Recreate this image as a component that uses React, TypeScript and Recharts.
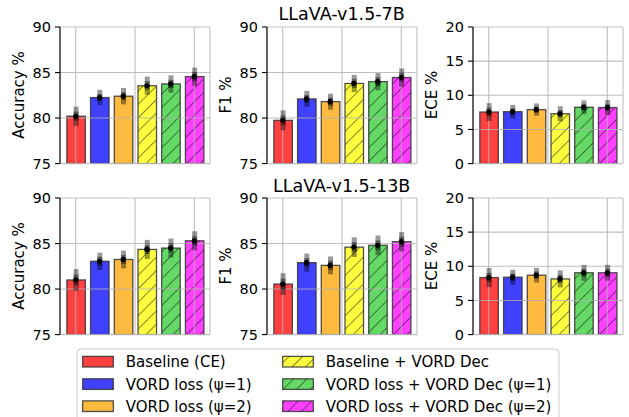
import React from 'react';
import { ComposedChart, Bar, XAxis, YAxis, CartesianGrid, ErrorBar, Scatter } from 'recharts';

// ---------- data ----------
const METHODS = [
  'Baseline (CE)',
  'VORD loss (ψ=1)',
  'VORD loss (ψ=2)',
  'Baseline + VORD Dec',
  'VORD loss + VORD Dec (ψ=1)',
  'VORD loss + VORD Dec (ψ=2)',
];
const POSITIONS = [0, 1, 2, 3, 4, 5];

const ACC_7B = [80.2, 82.25, 82.4, 83.55, 83.75, 84.55];
const ACC_7B_ERR = [1.05, 0.85, 0.9, 1.0, 0.95, 1.0];
const ACC_7B_ERR_IN = [0.5, 0.4, 0.45, 0.5, 0.45, 0.5];

const F1_7B = [79.75, 82.1, 81.8, 83.8, 84.0, 84.45];
const F1_7B_ERR = [1.1, 0.88, 0.88, 0.95, 0.95, 1.0];
const F1_7B_ERR_IN = [0.55, 0.45, 0.45, 0.5, 0.5, 0.5];

const ECE_7B = [7.55, 7.6, 7.9, 7.3, 8.25, 8.2];
const ECE_7B_ERR = [1.3, 1.0, 0.9, 1.1, 1.0, 1.1];
const ECE_7B_ERR_IN = [0.65, 0.5, 0.45, 0.55, 0.5, 0.55];

const ACC_13B = [81.0, 83.05, 83.25, 84.35, 84.5, 85.3];
const ACC_13B_ERR = [1.2, 0.95, 0.98, 1.05, 1.05, 1.05];
const ACC_13B_ERR_IN = [0.6, 0.5, 0.5, 0.5, 0.5, 0.5];

const F1_13B = [80.55, 82.9, 82.6, 84.6, 84.8, 85.2];
const F1_13B_ERR = [1.2, 1.0, 0.98, 1.08, 1.08, 1.08];
const F1_13B_ERR_IN = [0.6, 0.5, 0.5, 0.55, 0.55, 0.55];

const ECE_13B = [8.35, 8.4, 8.7, 8.15, 9.05, 9.05];
const ECE_13B_ERR = [1.4, 1.1, 1.07, 1.25, 1.17, 1.17];
const ECE_13B_ERR_IN = [0.7, 0.55, 0.55, 0.6, 0.6, 0.6];

const TITLES = ['LLaVA-v1.5-7B', 'LLaVA-v1.5-13B'];
const Y_LABELS = ['Accuracy %', 'F1 %', 'ECE %'];
const PCT_TICKS = [75, 80, 85, 90];
const ECE_TICKS = [0, 5, 10, 15, 20];
const X_TICKS = [0, 2.5, 5];

// ---------- styles ----------
const COLORS = ['#ff4040', '#4040ff', '#ffbb40', '#ffff40', '#65d965', '#ff40ff'];
const HATCHED = [false, false, false, true, true, true];
const FONT = 'DejaVu Sans, sans-serif';

const COL_X = [60, 266.7, 472.7];
const ROW_Y = [26.7, 197.7];
const PLOT_W = 150;
const PLOT_H = 136.6;
const M_TOP = 27;
const Y_W = 60;
const X_H = 15;
const M_RIGHT = 10;

const BarShape = (props: any) => {
  const { x, y, width, height, index } = props;
  if (width == null || height == null) return null;
  return (
    <g>
      <rect x={x} y={y} width={width} height={height} fill={COLORS[index]} />
      {HATCHED[index] && <rect x={x} y={y} width={width} height={height} fill="url(#hatch)" />}
      <rect x={x} y={y} width={width} height={height} fill="none" stroke="#333" strokeOpacity={0.85} strokeWidth={1.3} />
    </g>
  );
};

const Dot = (props: any) => {
  const { cx, cy } = props;
  if (cx == null || cy == null) return null;
  return <circle cx={cx} cy={cy} r={2.6} fill="#000" />;
};

type PanelProps = {
  col: number;
  row: number;
  values: number[];
  errs: number[];
  inner: number[];
  domain: [number, number];
  ticks: number[];
};

function Panel({ col, row, values, errs, inner, domain, ticks }: PanelProps) {
  const data = METHODS.map((m, i) => ({ name: m, pos: POSITIONS[i], value: values[i], err: errs[i], inner: inner[i] }));
  const x0 = COL_X[col];
  const y0 = ROW_Y[row];
  const w = Y_W + PLOT_W + M_RIGHT;
  const h = M_TOP + PLOT_H + X_H;
  const tickStyle = { fontSize: 14.5, fill: '#000', fontFamily: FONT };
  return (
    <div style={{ position: 'absolute', left: x0 - Y_W, top: y0 - M_TOP }}>
      <ComposedChart width={w} height={h} data={data} margin={{ top: M_TOP, right: M_RIGHT, bottom: 0, left: 0 }}>
        <XAxis xAxisId="cat" dataKey="name" type="category" hide padding={{ left: 3.85, right: 3.85 }} />
        <XAxis
          xAxisId="num"
          dataKey="pos"
          type="number"
          domain={[-0.662, 5.662]}
          ticks={X_TICKS}
          allowDataOverflow
          tickFormatter={() => ''}
          tickSize={5}
          height={X_H}
          axisLine={{ stroke: '#000', strokeWidth: 1.1 }}
          tickLine={{ stroke: '#000', strokeWidth: 1.1 }}
        />
        <XAxis
          xAxisId="top"
          orientation="top"
          type="number"
          domain={[0, 1]}
          height={0}
          tick={false}
          tickLine={false}
          axisLine={{ stroke: '#000', strokeWidth: 1.1 }}
        />
        <YAxis
          yAxisId="l"
          type="number"
          domain={domain}
          ticks={ticks}
          allowDataOverflow
          width={Y_W}
          tickSize={5}
          tickMargin={4}
          tick={tickStyle}
          axisLine={{ stroke: '#000', strokeWidth: 1.1 }}
          tickLine={{ stroke: '#000', strokeWidth: 1.1 }}
        />
        <YAxis
          yAxisId="r"
          orientation="right"
          type="number"
          domain={domain}
          width={0}
          tick={false}
          tickLine={false}
          axisLine={{ stroke: '#000', strokeWidth: 1.1 }}
        />
        <Bar
          xAxisId="cat"
          yAxisId="l"
          dataKey="value"
          barSize={18.5}
          shape={BarShape}
          isAnimationActive={false}
        >
          <ErrorBar dataKey="err" width={0} strokeWidth={5} stroke="rgba(0,0,0,0.4)" direction="y" />
          <ErrorBar dataKey="inner" width={0} strokeWidth={5} stroke="rgba(0,0,0,0.4)" direction="y" />
        </Bar>
        <CartesianGrid
          xAxisId="num"
          yAxisId="l"
          stroke="#b0b0b0"
          strokeOpacity={0.8}
          strokeWidth={1.1}
          {...({ zIndex: 350 } as any)}
        />
        <Scatter xAxisId="cat" yAxisId="l" dataKey="value" shape={Dot} isAnimationActive={false} />
      </ComposedChart>
    </div>
  );
}

const PANELS: PanelProps[] = [
  { col: 0, row: 0, values: ACC_7B, errs: ACC_7B_ERR, inner: ACC_7B_ERR_IN, domain: [75, 90], ticks: PCT_TICKS },
  { col: 1, row: 0, values: F1_7B, errs: F1_7B_ERR, inner: F1_7B_ERR_IN, domain: [75, 90], ticks: PCT_TICKS },
  { col: 2, row: 0, values: ECE_7B, errs: ECE_7B_ERR, inner: ECE_7B_ERR_IN, domain: [0, 20], ticks: ECE_TICKS },
  { col: 0, row: 1, values: ACC_13B, errs: ACC_13B_ERR, inner: ACC_13B_ERR_IN, domain: [75, 90], ticks: PCT_TICKS },
  { col: 1, row: 1, values: F1_13B, errs: F1_13B_ERR, inner: F1_13B_ERR_IN, domain: [75, 90], ticks: PCT_TICKS },
  { col: 2, row: 1, values: ECE_13B, errs: ECE_13B_ERR, inner: ECE_13B_ERR_IN, domain: [0, 20], ticks: ECE_TICKS },
];

const TITLE_BASELINES = [20, 191.7];
const LEGEND = { x: 77, y: 349, w: 482, h: 80, rowY: [361.7, 384.1, 406.2], swX: [82.7, 282.7], txtX: [125.7, 325.7] };

export default function App() {
  return (
    <div style={{ position: 'absolute', left: 0, top: 0, width: 629, height: 417, overflow: 'hidden', background: '#fff', fontFamily: FONT }}>
      {PANELS.map((p, i) => (
        <Panel key={i} {...p} />
      ))}
      <svg width={629} height={417} style={{ position: 'absolute', left: 0, top: 0, pointerEvents: 'none' }}>
        <defs>
          <pattern id="hatch" width={9.5} height={9.5} patternUnits="userSpaceOnUse" patternTransform="rotate(45)">
            <line x1={0} y1={0} x2={0} y2={9.5} stroke="#000" strokeOpacity={0.85} strokeWidth={1.1} />
          </pattern>
        </defs>
        {TITLES.map((t, r) => (
          <text key={t} x={COL_X[1] + PLOT_W / 2} y={TITLE_BASELINES[r]} textAnchor="middle" fontSize={17.5} fontFamily={FONT} fill="#000">
            {t}
          </text>
        ))}
        {ROW_Y.map((y0, r) =>
          Y_LABELS.map((lab, c) => {
            const lx = COL_X[c] - 36;
            const ly = y0 + PLOT_H / 2;
            return (
              <text key={`${r}-${c}`} x={lx} y={ly} transform={`rotate(-90, ${lx}, ${ly})`} textAnchor="middle" fontSize={15} fontFamily={FONT} fill="#000">
                {lab}
              </text>
            );
          })
        )}
        <rect x={LEGEND.x} y={LEGEND.y} width={LEGEND.w} height={LEGEND.h} rx={4} fill="#fff" fillOpacity={0.9} stroke="#cccccc" strokeWidth={1} />
        {METHODS.map((m, i) => {
          const c = Math.floor(i / 3);
          const r = i % 3;
          const cy = LEGEND.rowY[r];
          const sx = LEGEND.swX[c];
          return (
            <g key={m}>
              <rect x={sx} y={cy - 5.3} width={30.6} height={10.6} fill={COLORS[i]} />
              {HATCHED[i] && <rect x={sx} y={cy - 5.3} width={30.6} height={10.6} fill="url(#hatch)" />}
              <rect x={sx} y={cy - 5.3} width={30.6} height={10.6} fill="none" stroke="#333" strokeOpacity={0.85} strokeWidth={1.3} />
              <text x={LEGEND.txtX[c]} y={cy + 5.4} fontSize={15} fontFamily={FONT} fill="#000">
                {m}
              </text>
            </g>
          );
        })}
      </svg>
    </div>
  );
}
